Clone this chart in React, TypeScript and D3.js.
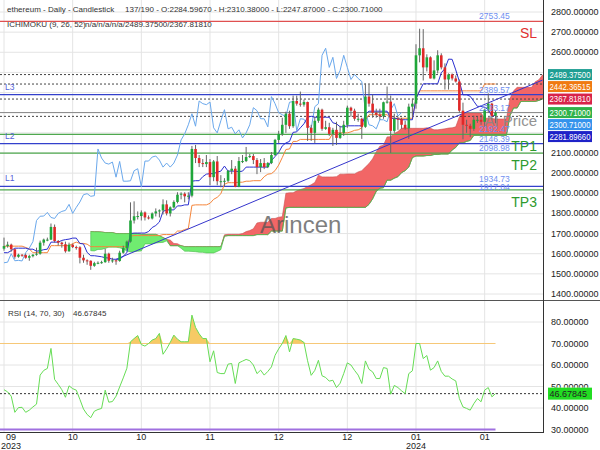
import React from "react";
import * as d3 from "d3";

type OHLC = [number, number, number, number];

// 53 earlier daily candles (27 Jul – 17 Sep 2023), used only by the Ichimoku lookbacks
const HISTORY_OHLC: OHLC[] = [
  [1860, 1890, 1850, 1858], [1858, 1885, 1848, 1875], [1875, 1888, 1866, 1880], [1880, 1885, 1845, 1860], [1860, 1870, 1845, 1857],
  [1857, 1872, 1815, 1868], [1868, 1880, 1830, 1838], [1838, 1850, 1825, 1835], [1835, 1850, 1818, 1828], [1828, 1840, 1820, 1835],
  [1835, 1840, 1825, 1834], [1834, 1840, 1810, 1826], [1826, 1868, 1822, 1855], [1855, 1870, 1840, 1853], [1853, 1860, 1842, 1850],
  [1850, 1856, 1840, 1848], [1848, 1855, 1845, 1850], [1850, 1853, 1838, 1845], [1845, 1862, 1835, 1843], [1843, 1848, 1815, 1827],
  [1827, 1830, 1800, 1806], [1806, 1812, 1560, 1685], [1685, 1700, 1645, 1663], [1663, 1695, 1655, 1680], [1680, 1695, 1670, 1688],
  [1688, 1690, 1648, 1667], [1667, 1680, 1555, 1633], [1633, 1690, 1625, 1680], [1680, 1685, 1645, 1659], [1659, 1670, 1640, 1650],
  [1650, 1652, 1640, 1645], [1645, 1662, 1640, 1658], [1658, 1660, 1630, 1650], [1650, 1745, 1645, 1730], [1730, 1732, 1690, 1705],
  [1705, 1718, 1635, 1645], [1645, 1655, 1610, 1630], [1630, 1640, 1625, 1636], [1636, 1650, 1630, 1641], [1641, 1645, 1620, 1632],
  [1632, 1642, 1615, 1634], [1634, 1660, 1610, 1631], [1631, 1652, 1620, 1645], [1645, 1655, 1625, 1637], [1637, 1640, 1630, 1636],
  [1636, 1640, 1605, 1616], [1616, 1618, 1530, 1553], [1553, 1620, 1550, 1593], [1593, 1612, 1585, 1607], [1607, 1640, 1600, 1627],
  [1627, 1650, 1615, 1643], [1643, 1648, 1630, 1637], [1637, 1640, 1610, 1625],
];

// 137 visible daily candles (18 Sep 2023 – 1 Feb 2024): open, high, low, close
const CANDLES_OHLC: OHLC[] = [
  [1625, 1680, 1615, 1638], [1638, 1660, 1630, 1645], [1645, 1650, 1610, 1622], [1622, 1625, 1575, 1585], [1585, 1600, 1580, 1595],
  [1595, 1598, 1585, 1593], [1593, 1600, 1575, 1580], [1580, 1595, 1565, 1588], [1588, 1598, 1582, 1595], [1595, 1630, 1590, 1600],
  [1600, 1665, 1595, 1655], [1655, 1675, 1640, 1670], [1670, 1680, 1662, 1670], [1670, 1750, 1668, 1733], [1733, 1745, 1655, 1663],
  [1663, 1668, 1640, 1655], [1655, 1660, 1630, 1647], [1647, 1660, 1605, 1612], [1612, 1655, 1610, 1645], [1645, 1650, 1628, 1633],
  [1633, 1640, 1620, 1632], [1632, 1637, 1552, 1580], [1580, 1595, 1555, 1567], [1567, 1572, 1545, 1565], [1565, 1567, 1520, 1540],
  [1540, 1560, 1535, 1553], [1553, 1562, 1548, 1555], [1555, 1565, 1550, 1558], [1558, 1625, 1555, 1600], [1600, 1605, 1555, 1565],
  [1565, 1580, 1555, 1567], [1567, 1570, 1545, 1564], [1564, 1615, 1560, 1605], [1605, 1640, 1600, 1628], [1628, 1665, 1620, 1660],
  [1660, 1855, 1655, 1765], [1765, 1860, 1750, 1786], [1786, 1810, 1770, 1787], [1787, 1815, 1765, 1805], [1805, 1810, 1765, 1780],
  [1780, 1790, 1770, 1775], [1775, 1805, 1770, 1800], [1800, 1825, 1785, 1810], [1810, 1820, 1780, 1815], [1815, 1870, 1795, 1845],
  [1845, 1865, 1790, 1800], [1800, 1835, 1785, 1830], [1830, 1865, 1825, 1857], [1857, 1905, 1850, 1893], [1893, 1905, 1870, 1898],
  [1898, 1905, 1855, 1885], [1885, 1905, 1870, 1888], [1888, 2135, 1880, 2120], [2120, 2140, 2050, 2075], [2075, 2090, 2030, 2050],
  [2050, 2070, 2030, 2045], [2045, 2090, 2030, 2055], [2055, 2070, 1940, 1980], [1980, 2065, 1960, 2058], [2058, 2085, 1940, 1960],
  [1960, 1990, 1930, 1960], [1960, 1975, 1935, 1962], [1962, 2015, 1955, 2012], [2012, 2065, 1995, 2022], [2022, 2035, 1930, 1932],
  [1932, 2080, 1930, 2060], [2060, 2090, 2050, 2060], [2060, 2130, 2055, 2080], [2080, 2095, 2075, 2085], [2085, 2095, 2045, 2065],
  [2065, 2075, 1995, 2030], [2030, 2070, 2005, 2050], [2050, 2075, 2020, 2030], [2030, 2055, 2025, 2050], [2050, 2105, 2045, 2090],
  [2090, 2170, 2085, 2165], [2165, 2210, 2150, 2195], [2195, 2275, 2185, 2240], [2240, 2305, 2200, 2295], [2295, 2310, 2220, 2233],
  [2233, 2385, 2225, 2358], [2358, 2385, 2335, 2345], [2345, 2405, 2330, 2340], [2340, 2365, 2330, 2353], [2353, 2355, 2160, 2225],
  [2225, 2240, 2160, 2200], [2200, 2280, 2150, 2260], [2260, 2325, 2250, 2315], [2315, 2320, 2210, 2220], [2220, 2260, 2215, 2228],
  [2228, 2250, 2185, 2195], [2195, 2225, 2135, 2215], [2215, 2255, 2140, 2175], [2175, 2235, 2170, 2200], [2200, 2260, 2185, 2240],
  [2240, 2335, 2225, 2325], [2325, 2330, 2280, 2310], [2310, 2320, 2260, 2270], [2270, 2295, 2255, 2270], [2270, 2275, 2170, 2230],
  [2230, 2445, 2225, 2380], [2380, 2440, 2330, 2345], [2345, 2390, 2275, 2300], [2300, 2320, 2275, 2290], [2290, 2320, 2265, 2282],
  [2282, 2355, 2270, 2352], [2352, 2430, 2345, 2355], [2355, 2385, 2100, 2210], [2210, 2295, 2200, 2270], [2270, 2280, 2215, 2268],
  [2268, 2275, 2220, 2240], [2240, 2260, 2215, 2222], [2222, 2345, 2170, 2330], [2330, 2370, 2280, 2345], [2345, 2640, 2320, 2585],
  [2585, 2717, 2550, 2620], [2620, 2715, 2460, 2525], [2525, 2590, 2505, 2575], [2575, 2580, 2470, 2470], [2470, 2560, 2465, 2510],
  [2510, 2610, 2495, 2585], [2585, 2595, 2515, 2525], [2525, 2545, 2415, 2465], [2465, 2495, 2415, 2490], [2490, 2495, 2460, 2470],
  [2470, 2485, 2450, 2455], [2455, 2465, 2300, 2310], [2310, 2350, 2168, 2240], [2240, 2265, 2200, 2235], [2235, 2245, 2180, 2220],
  [2220, 2285, 2210, 2265], [2265, 2280, 2250, 2265], [2265, 2290, 2240, 2255], [2255, 2320, 2230, 2315], [2315, 2396, 2300, 2345],
  [2345, 2350, 2265, 2283], [2284.5967, 2310.38, 2247.87, 2300.71],
];

// RSI(14), one value per visible candle
const RSI_VALUES: number[] = [
  48.5, 47.5, 45.5, 38, 40.2, 40.3, 38, 39, 40.5, 41.8,
  55.3, 57.5, 58.4, 67.7, 53.3, 51, 48.5, 45, 50.3, 49,
  48.3, 44, 39.5, 37, 35.5, 38.5, 39.3, 39.8, 48.3, 42.7,
  43, 45.5, 49.8, 54, 58.5, 70.8, 72.3, 73.7, 69.5, 68.8,
  70, 71.6, 72.3, 74.7, 65, 67.5, 70.5, 73.9, 72, 70.8,
  70.8, 70.8, 83.2, 77.5, 74.5, 72.3, 72.3, 61.5, 66.6, 56.5,
  56, 56, 60.4, 60.7, 51.4, 61, 61.8, 62.6, 62, 60,
  56, 57.6, 55.3, 57, 59.1, 64.5, 67.5, 70, 73.7, 66.1,
  72.3, 72, 71.6, 70.5, 62, 55.2, 57.5, 62.2, 55, 54.2,
  52.5, 52.9, 49.5, 51.5, 56, 61, 60, 57.5, 55.3, 51.4,
  61.9, 58, 56.8, 53.7, 53.7, 58.8, 58.4, 46.4, 50.5, 49.5,
  48, 46.7, 56, 57.3, 70, 70, 63, 64.4, 57.6, 58.8,
  61.9, 57, 54.8, 54.8, 53.5, 52.6, 44.4, 40.5, 39.8, 39,
  42, 44.4, 42.9, 48.3, 49.5, 45.2, 46.67845,
];

const PRICE_TICKS = [1400, 1500, 1600, 1700, 1800, 1900, 2000, 2100, 2200, 2300, 2400, 2500, 2600, 2700, 2800];
const PRICE_TICKS_HIDDEN = [2200, 2300, 2400, 2500];
const RSI_TICKS = [30, 40, 50, 60, 70, 80];
const X_TICK_INDEX = [0, 19, 38, 57, 76, 95, 114, 133];
const X_TICK_LABELS = ["09", "10", "10", "11", "12", "12", "01", "01"];
const X_TICK_YEARS = ["2023", "", "", "", "", "", "2024", ""];

const SL_LEVEL = 2753.45;
const BLUE_LEVELS = [2389.57, 2146.39, 1934.73];
const BLUE_LEVEL_NAMES = ["L3", "L2", "L1"];
const GREEN_LEVELS = [2192.47, 2098.98, 1917.04];
const GREEN_LEVEL_NAMES = ["TP1", "TP2", "TP3"];
const TREND_POINTS: [number, number][] = [[31, 1572], [149, 2462]];
const TREND_LABEL = 2333.17;

const TAG_VALUES = [2489.375, 2442.36515, 2367.8181, 2300.71, 2300.71, 2281.8966];
const TAG_TEXT = ["2489.37500", "2442.36515", "2367.81810", "2300.71000", "2300.71000", "2281.89660"];
const TAG_COLORS = ["#1f9e93", "#f07a12", "#d8234a", "#2fb24a", "#3493ec", "#1e22c8"];
const DOTTED_VALUES = [2489.375, 2442.36515, 2367.8181, 2281.8966];
const CLOSE_VALUE = 2300.71;
const RSI_LAST = 46.67845;

const FONT = "'Liberation Sans', Arial, sans-serif";

export default function App() {
  const PR = 543; // right edge of plot area
  const x = d3.scaleLinear().domain([0, 136]).range([4, 4 + 136 * 3.614]);
  const y = d3.scaleLinear().domain([1400, 2800]).range([294, 12]);
  const yr = d3.scaleLinear().domain([30, 80]).range([429.5, 322]);

  const all = [...HISTORY_OHLC, ...CANDLES_OHLC];
  const off = HISTORY_OHLC.length;
  const mid = (k: number, n: number): number | null => {
    if (k < n - 1) return null;
    let hi = -Infinity, lo = Infinity;
    for (let j = k - n + 1; j <= k; j++) {
      hi = Math.max(hi, all[j][1]);
      lo = Math.min(lo, all[j][2]);
    }
    return (hi + lo) / 2;
  };

  const tenkan: [number, number][] = [];
  const kijun: [number, number][] = [];
  CANDLES_OHLC.forEach((_, i) => {
    const t = mid(i + off, 9);
    const k = mid(i + off, 26);
    if (t != null) tenkan.push([i, t]);
    if (k != null) kijun.push([i, k]);
  });
  const cloud: { i: number; a: number; b: number }[] = [];
  all.forEach((_, k) => {
    const t = mid(k, 9), kj = mid(k, 26), b = mid(k, 52);
    if (t != null && kj != null && b != null) cloud.push({ i: k + 26 - off, a: (t + kj) / 2, b });
  });
  const chikou: [number, number][] = [];
  all.forEach((c, k) => {
    const i = k - 26 - off;
    if (i >= 0) chikou.push([i, c[3]]);
  });

  const line = d3.line<[number, number]>().x((d) => x(d[0])).y((d) => y(d[1]));
  const redArea = d3.area<{ i: number; a: number; b: number }>()
    .x((d) => x(d.i)).y0((d) => y(d.b)).y1((d) => y(Math.max(d.a, d.b)));
  const greenArea = d3.area<{ i: number; a: number; b: number }>()
    .x((d) => x(d.i)).y0((d) => y(d.b)).y1((d) => y(Math.min(d.a, d.b)));

  const rsiLine = d3.line<number>().x((_, i) => x(i)).y((d) => yr(d));
  const rsiFill = d3.area<number>().x((_, i) => x(i)).y0(yr(70)).y1((d) => yr(Math.max(d, 70)));

  // tag placement, pushed down to avoid overlaps
  const tagY: number[] = [];
  TAG_VALUES.forEach((v, i) => {
    let ty = y(v);
    if (i > 0) ty = Math.max(ty, tagY[i - 1] + 12);
    tagY.push(ty);
  });

  const trendX1 = x(TREND_POINTS[0][0]);
  const trendY1 = y(TREND_POINTS[0][1]);
  const trendX2 = x(TREND_POINTS[1][0]);
  const trendY2 = y(TREND_POINTS[1][1]);

  const levelLabel = (v: number, dy = -2) => (
    <text key={"ll" + v} x={479} y={y(v) + dy} fontSize={8.5} fill="#6f8ff0" fontFamily={FONT}>
      {v.toFixed(2)}
    </text>
  );
  const rsiTagTop = yr(RSI_LAST) - 6;

  return (
    <svg width={600} height={450} style={{ position: "absolute", left: 0, top: 0, background: "#fff" }}>
      <defs>
        <clipPath id="mainClip"><rect x={0} y={0} width={PR} height={300} /></clipPath>
        <clipPath id="rsiClip"><rect x={0} y={301} width={PR} height={131} /></clipPath>
        <clipPath id="rsiLabelClip"><rect x={PR} y={301} width={600 - PR} height={rsiTagTop - 301} /></clipPath>
      </defs>
      <rect x={0} y={0} width={600} height={450} fill="#fff" />

      {/* grids */}
      {X_TICK_INDEX.map((ix) => (
        <line key={"vg" + ix} x1={x(ix)} x2={x(ix)} y1={0} y2={432} stroke="#e4e4e4" strokeWidth={1} />
      ))}
      {PRICE_TICKS.map((p) => (
        <line key={"hg" + p} x1={0} x2={PR} y1={y(p)} y2={y(p)} stroke="#e4e4e4" strokeWidth={1} />
      ))}
      {[40, 50, 60, 80].map((v) => (
        <line key={"rg" + v} x1={0} x2={PR} y1={yr(v)} y2={yr(v)} stroke="#e4e4e4" strokeWidth={1} />
      ))}

      <g clipPath="url(#mainClip)">
        {/* cloud */}
        <path d={redArea(cloud) || ""} fill="#f26666" stroke="#c95050" strokeWidth={0.6} />
        <path d={greenArea(cloud) || ""} fill="#70ec70" stroke="#4cb84c" strokeWidth={0.6} />

        {/* horizontal levels */}
        <line x1={0} x2={PR} y1={y(SL_LEVEL)} y2={y(SL_LEVEL)} stroke="#e05050" strokeWidth={1.3} />
        {GREEN_LEVELS.map((v) => (
          <line key={"gl" + v} x1={0} x2={PR} y1={y(v)} y2={y(v)} stroke="#4fa84f" strokeWidth={1.3} />
        ))}
        {BLUE_LEVELS.map((v) => (
          <line key={"bl" + v} x1={0} x2={PR} y1={y(v)} y2={y(v)} stroke="#3340cc" strokeWidth={1.3} />
        ))}
        {DOTTED_VALUES.map((v) => (
          <line key={"dl" + v} x1={0} x2={PR} y1={y(v)} y2={y(v)} stroke="#444" strokeWidth={1} strokeDasharray="2,2" />
        ))}
        <line x1={0} x2={PR} y1={y(CLOSE_VALUE)} y2={y(CLOSE_VALUE)} stroke="#888" strokeWidth={1} />

        {/* chikou, kijun, tenkan */}
        <path d={line(chikou) || ""} fill="none" stroke="#6aa8ec" strokeWidth={1} />
        <path d={line(kijun) || ""} fill="none" stroke="#f5853a" strokeWidth={1} />
        <path d={line(tenkan) || ""} fill="none" stroke="#2b2fd0" strokeWidth={1} />

        {/* trend line */}
        <line x1={trendX1} y1={trendY1} x2={trendX2} y2={trendY2} stroke="#3535cc" strokeWidth={1} />

        {/* candles */}
        {CANDLES_OHLC.map((c, i) => {
          const [o, h, l, cl] = c;
          const up = cl >= o;
          const col = up ? "#1fa63a" : "#e02828";
          const top = y(Math.max(o, cl));
          const bh = Math.max(1, Math.abs(y(o) - y(cl)));
          return (
            <g key={"c" + i}>
              <line x1={x(i)} x2={x(i)} y1={y(h)} y2={y(l)} stroke="#666" strokeWidth={1} />
              <rect x={x(i) - 1.3} y={top} width={2.6} height={bh} fill={col} />
            </g>
          );
        })}

        {/* watermark and annotations */}
        <text x={260} y={233} fontSize={24} fill="#555" opacity={0.75} fontFamily={FONT}>Arincen</text>
        <text x={537} y={126} fontSize={15} fill="#888" opacity={0.9} textAnchor="end" fontFamily={FONT}>AI Price</text>

        {levelLabel(SL_LEVEL)}
        {levelLabel(BLUE_LEVELS[0])}
        {levelLabel(BLUE_LEVELS[1])}
        {levelLabel(BLUE_LEVELS[2], -4)}
        {levelLabel(GREEN_LEVELS[0])}
        {levelLabel(GREEN_LEVELS[1])}
        {levelLabel(GREEN_LEVELS[2], 0)}
        {levelLabel(TREND_LABEL, 5)}

        <text x={537} y={38} fontSize={14} fill="#e03030" textAnchor="end" fontFamily={FONT}>SL</text>
        {GREEN_LEVEL_NAMES.map((n, i) => (
          <text key={n} x={537} y={y(GREEN_LEVELS[i]) + 17} fontSize={14} fill="#2e9a2e" textAnchor="end" fontFamily={FONT}>{n}</text>
        ))}
        {BLUE_LEVEL_NAMES.map((n, i) => (
          <text key={n} x={5} y={y(BLUE_LEVELS[i]) - 5} fontSize={8.5} fill="#5562d8" fontFamily={FONT}>{n}</text>
        ))}
      </g>

      {/* RSI panel */}
      <g clipPath="url(#rsiClip)">
        <path d={rsiFill(RSI_VALUES) || ""} fill="#f5c14a" opacity={0.85} />
        <line x1={0} x2={x(136)} y1={yr(70)} y2={yr(70)} stroke="#f6c878" strokeWidth={1.2} />
        <line x1={0} x2={x(136)} y1={yr(30)} y2={yr(30)} stroke="#a070e0" strokeWidth={2} />
        <line x1={0} x2={PR} y1={yr(RSI_LAST)} y2={yr(RSI_LAST)} stroke="#333" strokeWidth={1} strokeDasharray="2,2" />
        <path d={rsiLine(RSI_VALUES) || ""} fill="none" stroke="#66dd55" strokeWidth={1} />
      </g>

      {/* frame */}
      <line x1={0} x2={600} y1={300.5} y2={300.5} stroke="#555" strokeWidth={1} />
      <line x1={PR + 0.5} x2={PR + 0.5} y1={0} y2={432} stroke="#333" strokeWidth={1} />
      <line x1={0} x2={PR + 1} y1={432.5} y2={432.5} stroke="#333" strokeWidth={1} />

      {/* price axis */}
      {PRICE_TICKS.filter((p) => !PRICE_TICKS_HIDDEN.includes(p)).map((p) => (
        <text key={"pt" + p} x={551} y={y(p) + 3} fontSize={9} fill="#222" fontFamily={FONT}>{p.toFixed(5)}</text>
      ))}
      {TAG_VALUES.map((v, i) => (
        <g key={"tag" + i}>
          <rect x={548} y={tagY[i] - 5.5} width={44} height={11} fill={TAG_COLORS[i]} />
          <text x={549.5} y={tagY[i] + 3.2} fontSize={8.5} fill="#fff" fontFamily={FONT}
            textLength={41} lengthAdjust="spacingAndGlyphs">{TAG_TEXT[i]}</text>
        </g>
      ))}

      {/* RSI axis */}
      {RSI_TICKS.filter((v) => v !== 50).map((v) => (
        <text key={"rt" + v} x={551} y={yr(v) + 3} fontSize={9} fill="#222" fontFamily={FONT}>{v.toFixed(5)}</text>
      ))}
      <g clipPath="url(#rsiLabelClip)">
        <text x={551} y={yr(50) + 3} fontSize={9} fill="#222" fontFamily={FONT}>{(50).toFixed(5)}</text>
      </g>
      <rect x={548} y={rsiTagTop} width={44} height={12} fill="#22dd22" />
      <text x={549.5} y={yr(RSI_LAST) + 3.2} fontSize={9} fill="#222" fontFamily={FONT}>{RSI_LAST.toFixed(5)}</text>

      {/* x axis */}
      {X_TICK_INDEX.map((ix, k) => {
        const cx = Math.max(x(ix), 11);
        return (
          <g key={"xt" + k}>
            <text x={cx} y={440} fontSize={9} fill="#222" textAnchor="middle" fontFamily={FONT}>{X_TICK_LABELS[k]}</text>
            {X_TICK_YEARS[k] && (
              <text x={cx} y={449} fontSize={9} fill="#222" textAnchor="middle" fontFamily={FONT}>{X_TICK_YEARS[k]}</text>
            )}
          </g>
        );
      })}

      {/* legends */}
      <text x={7} y={12} fontSize={8} fill="#333" fontFamily={FONT}>ethereum - Daily - Candlestick</text>
      <text x={125} y={12} fontSize={8} fill="#333" fontFamily={FONT}>
        137/190 - O:2284.59670 - H:2310.38000 - L:2247.87000 - C:2300.71000
      </text>
      <text x={7} y={27} fontSize={8} fill="#333" fontFamily={FONT}>ICHIMOKU (9, 26, 52)</text>
      <text x={85} y={27} fontSize={8} fill="#333" fontFamily={FONT}>n/a/n/a/n/a/2489.37500/2367.81810</text>
      <text x={8} y={316} fontSize={8} fill="#333" fontFamily={FONT}>RSI (14, 70, 30)</text>
      <text x={73} y={316} fontSize={8} fill="#333" fontFamily={FONT}>{RSI_LAST.toFixed(5)}</text>
    </svg>
  );
}
